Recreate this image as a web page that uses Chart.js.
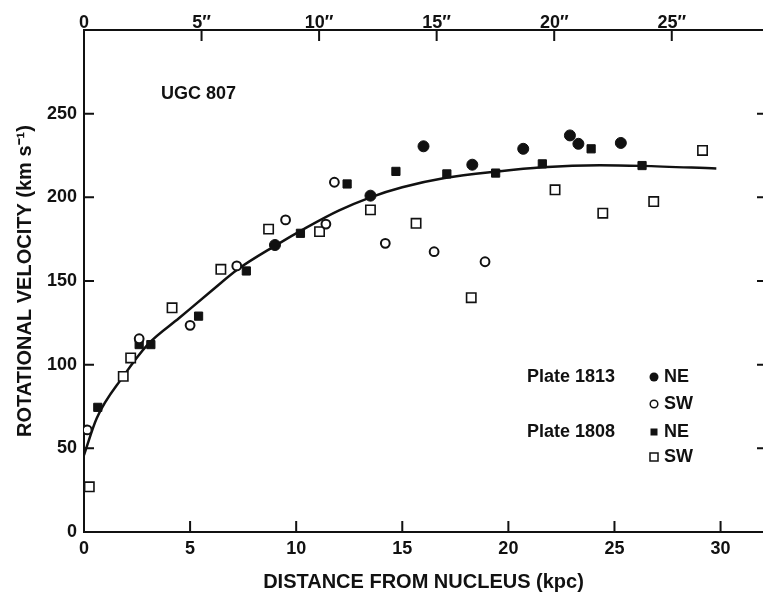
<!DOCTYPE html>
<html>
<head>
<title>UGC 807 rotation curve</title>
<script src="https://cdn.jsdelivr.net/npm/chart.js@4/dist/chart.umd.min.js"></script>
<style>
  body { margin: 0; background: #fff; }
  #wrap { width: 763px; height: 592px; }
</style>
</head>
<body>
<div id="wrap"><canvas id="myChart" width="763" height="592"></canvas></div>
<script>
// values: [distance kpc, velocity km/s]
var plate1813NE = [[9.0,171.5],[13.5,201],[16.0,230.5],[18.3,219.5],[20.7,229],[22.9,237],[23.3,232],[25.3,232.5]];
var plate1813SW = [[0.15,61],[2.6,115.5],[5.0,123.5],[7.2,159],[9.5,186.5],[11.4,184],[11.8,209],[14.2,172.5],[16.5,167.5],[18.9,161.5]];
var plate1808NE = [[0.65,74.5],[2.6,112],[3.15,112],[5.4,129],[7.65,156],[10.2,178.5],[12.4,208],[14.7,215.5],[17.1,214],[19.4,214.5],[21.6,220],[23.9,229],[26.3,219]];
var plate1808SW = [[0.25,27],[1.85,93],[2.2,104],[4.15,134],[6.45,157],[8.7,181],[11.1,179.5],[13.5,192.5],[15.65,184.5],[18.25,140],[22.2,204.5],[24.45,190.5],[26.85,197.5],[29.15,228]];
// fitted curve
var fitCurve = [[0,46],[0.6,68],[1.85,93],[3,112],[4.5,128],[6,144],[7.25,157],[9,171],[10.5,182],[12,192],[13.5,200],[15,206],[17,211.5],[19.5,215.5],[21.6,218],[24.3,219.2],[26.3,218.8],[29.8,217.2]];

var xTicksKpc = [0, 5, 10, 15, 20, 25, 30];
var yTicks = [0, 50, 100, 150, 200, 250];
var arcsecTicks = [0, 5, 10, 15, 20, 25];
var kpcPerArcsec = 1.108;

var FONT = '"Liberation Sans", Arial, sans-serif';

function pts(arr) {
  return arr.map(function (p) { return { x: p[0], y: p[1] }; });
}

// ticks point inward, so draw them by hand on top of everything
var inwardTicks = {
  id: 'inwardTicks',
  afterDraw: function (chart) {
    var ctx = chart.ctx, a = chart.chartArea;
    var sx = chart.scales.x, sy = chart.scales.y, st = chart.scales.x2;
    ctx.save();
    ctx.strokeStyle = '#111';
    ctx.lineWidth = 2;
    ctx.beginPath();
    xTicksKpc.forEach(function (v) {
      if (v === 0) return;
      var px = sx.getPixelForValue(v);
      ctx.moveTo(px, a.bottom); ctx.lineTo(px, a.bottom - 11);
    });
    arcsecTicks.forEach(function (v) {
      if (v === 0) return;
      var px = st.getPixelForValue(v);
      ctx.moveTo(px, a.top); ctx.lineTo(px, a.top + 11);
    });
    yTicks.forEach(function (v) {
      if (v === 0) return;
      var py = sy.getPixelForValue(v);
      ctx.moveTo(a.left, py); ctx.lineTo(a.left + 10, py);
      ctx.moveTo(a.right + 6, py); ctx.lineTo(a.right - 6, py);
    });
    ctx.stroke();

    // labels inside the plot
    ctx.fillStyle = '#111';
    ctx.textBaseline = 'middle';
    ctx.font = 'bold 18px ' + FONT;
    ctx.fillText('UGC 807', 161, 94);
    ctx.fillText('Plate 1813', 527, 377);
    ctx.fillText('Plate 1808', 527, 432);
    ctx.fillText('NE', 664, 377);
    ctx.fillText('SW', 664, 404);
    ctx.fillText('NE', 664, 432);
    ctx.fillText('SW', 664, 457);

    // legend markers
    ctx.lineWidth = 1.5;
    ctx.beginPath(); ctx.arc(654, 377, 4.5, 0, Math.PI * 2); ctx.fill();
    ctx.beginPath(); ctx.arc(654, 404, 3.8, 0, Math.PI * 2); ctx.stroke();
    ctx.fillRect(650.5, 428.5, 7, 7);
    ctx.strokeRect(650, 453, 8, 8);
    ctx.restore();
  }
};

function noPadH(s) { s.paddingLeft = 0; s.paddingRight = 0; }

var ctx = document.getElementById('myChart').getContext('2d');
var chart = new Chart(ctx, {
  type: 'scatter',
  data: {
    datasets: [
      {
        label: 'curve',
        type: 'line',
        data: pts(fitCurve),
        borderColor: '#111',
        borderWidth: 2.5,
        pointRadius: 0,
        cubicInterpolationMode: 'monotone',
        fill: false,
        order: 5
      },
      {
        label: 'Plate 1813 NE',
        data: pts(plate1813NE),
        pointStyle: 'circle',
        pointRadius: 5.5,
        backgroundColor: '#111',
        borderColor: '#111',
        borderWidth: 1,
        order: 1
      },
      {
        label: 'Plate 1813 SW',
        data: pts(plate1813SW),
        pointStyle: 'circle',
        pointRadius: 4.4,
        backgroundColor: '#fff',
        borderColor: '#111',
        borderWidth: 2,
        order: 2
      },
      {
        label: 'Plate 1808 NE',
        data: pts(plate1808NE),
        pointStyle: 'rect',
        pointRadius: 5.8,
        backgroundColor: '#111',
        borderColor: '#111',
        borderWidth: 1,
        order: 3
      },
      {
        label: 'Plate 1808 SW',
        data: pts(plate1808SW),
        pointStyle: 'rect',
        pointRadius: 6.6,
        backgroundColor: '#fff',
        borderColor: '#111',
        borderWidth: 1.6,
        order: 4
      }
    ]
  },
  options: {
    responsive: false,
    animation: false,
    devicePixelRatio: 1,
    layout: { padding: 0, autoPadding: false },
    plugins: {
      legend: { display: false },
      tooltip: { enabled: false }
    },
    scales: {
      x: {
        type: 'linear',
        position: 'bottom',
        min: 0,
        max: 32,
        afterFit: function (s) { s.height = 60; noPadH(s); },
        grid: { display: false, drawTicks: false },
        border: { display: true, color: '#111', width: 2 },
        ticks: {
          stepSize: 5,
          includeBounds: false,
          padding: 6,
          color: '#111',
          font: { family: FONT, size: 18, weight: 'bold' }
        },
        title: {
          display: true,
          text: 'DISTANCE FROM NUCLEUS (kpc)',
          color: '#111',
          padding: 0,
          font: { family: FONT, size: 20, weight: 'bold', lineHeight: 1 }
        }
      },
      x2: {
        type: 'linear',
        position: 'top',
        min: 0,
        max: 32 / kpcPerArcsec,
        afterFit: function (s) { s.height = 30; noPadH(s); },
        grid: { display: false, drawTicks: false },
        border: { display: true, color: '#111', width: 2 },
        ticks: {
          stepSize: 5,
          includeBounds: false,
          padding: -4,
          color: '#111',
          font: { family: FONT, size: 18, weight: 'bold' },
          callback: function (v) { return v === 0 ? '0' : v + '\u2033'; }
        }
      },
      y: {
        type: 'linear',
        position: 'left',
        min: 0,
        max: 300,
        afterFit: function (s) { s.width = 84; s.paddingTop = 0; s.paddingBottom = 0; },
        grid: { display: false, drawTicks: false },
        border: { display: true, color: '#111', width: 2 },
        ticks: {
          stepSize: 50,
          padding: 7,
          color: '#111',
          font: { family: FONT, size: 18, weight: 'bold' },
          callback: function (v) { return v === 300 ? '' : v; }
        },
        title: {
          display: true,
          text: 'ROTATIONAL VELOCITY (km s\u207B\u00B9)',
          color: '#111',
          padding: { top: 15, bottom: 0 },
          font: { family: FONT, size: 20, weight: 'bold', lineHeight: 1 }
        }
      }
    }
  },
  plugins: [inwardTicks]
});
</script>
</body>
</html>
